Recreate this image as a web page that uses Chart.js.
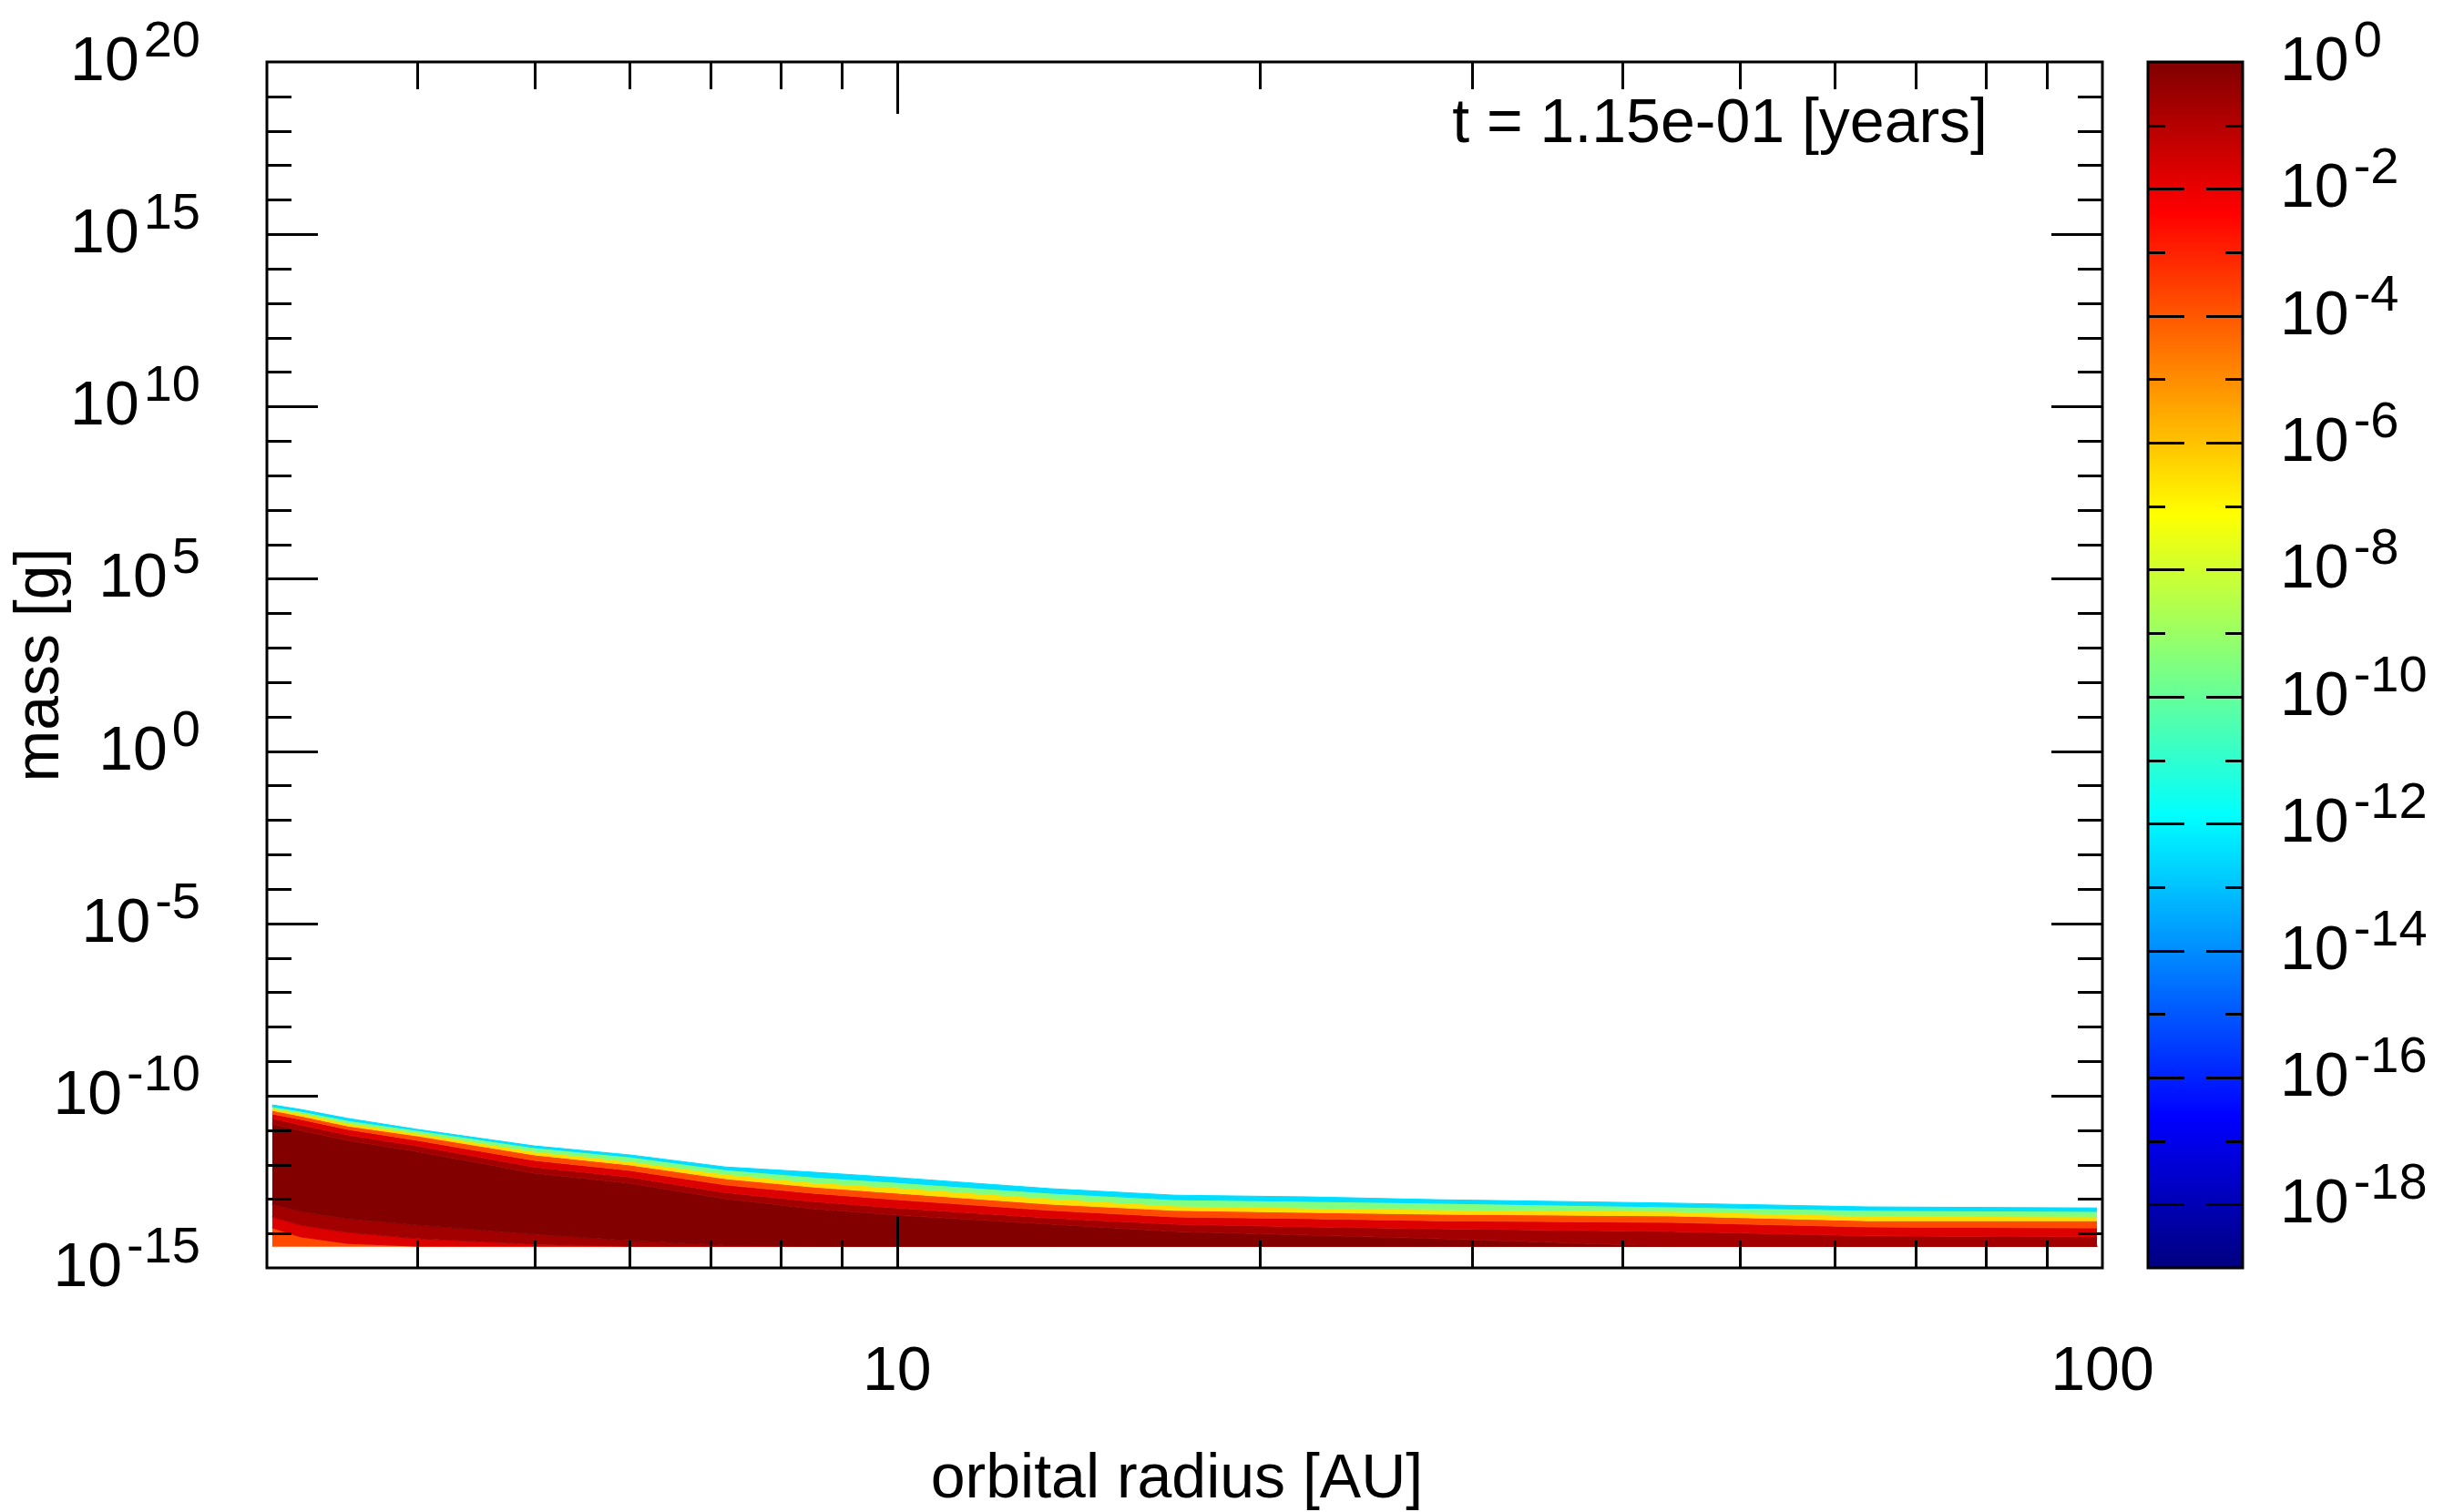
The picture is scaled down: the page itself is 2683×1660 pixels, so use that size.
<!DOCTYPE html>
<html>
<head>
<meta charset="utf-8">
<title>mass vs orbital radius</title>
<script src="https://cdn.jsdelivr.net/npm/chart.js@4.4.1/dist/chart.umd.min.js"></script>
<style>
  html, body { margin: 0; padding: 0; background: #fff; }
  #wrap { width: 2683px; height: 1660px; }
</style>
</head>
<body>
<div id="wrap"><canvas id="chart" width="2683" height="1660"></canvas></div>
<script>
const radiusAU = [3.03, 3.2, 3.5, 4, 5, 6, 7.2, 8.5, 10, 13.4, 17, 22, 28, 44, 64, 99];

// log10 of mass [g] where the density crosses a level (upper side of the band)
const upper14 = [-10.27, -10.40, -10.66, -10.98, -11.46, -11.72, -12.07, -12.22, -12.38, -12.70, -12.89, -12.94, -13.02, -13.12, -13.23, -13.26];
const upper11 = [-10.32, -10.45, -10.72, -11.01, -11.51, -11.78, -12.15, -12.36, -12.52, -12.83, -13.02, -13.07, -13.12, -13.23, -13.33, -13.36];
const upper8  = [-10.37, -10.51, -10.80, -11.09, -11.62, -11.91, -12.28, -12.52, -12.67, -12.99, -13.20, -13.26, -13.31, -13.36, -13.49, -13.52];
const upper5  = [-10.43, -10.59, -10.88, -11.17, -11.72, -12.01, -12.41, -12.65, -12.83, -13.15, -13.33, -13.39, -13.44, -13.49, -13.63, -13.63];
const upper25 = [-10.53, -10.69, -10.98, -11.30, -11.88, -12.17, -12.59, -12.83, -13.02, -13.33, -13.52, -13.57, -13.63, -13.68, -13.81, -13.84];
const upper1  = [-10.66, -10.85, -11.14, -11.46, -12.07, -12.36, -12.81, -13.07, -13.26, -13.55, -13.73, -13.81, -13.86, -13.94, -14.07, -14.10];
const upper03 = [-10.82, -11.01, -11.30, -11.62, -12.25, -12.54, -12.99, -13.28, -13.47, -13.73, -13.94, -14.05, -14.15, -14.37, -14.37, -14.37];
// lower side (only the inner part near 3-8 AU lifts off the floor)
const lower03 = [-13.15, -13.36, -13.57, -13.76, -14.02, -14.21, -14.34, -14.37, -14.37, -14.37, -14.37, -14.37, -14.37, -14.37, -14.37, -14.37];
const lower1  = [-13.52, -13.76, -13.97, -14.15, -14.31, -14.37, -14.37, -14.37, -14.37, -14.37, -14.37, -14.37, -14.37, -14.37, -14.37, -14.37];
const lower25 = [-13.84, -14.10, -14.29, -14.37, -14.37, -14.37, -14.37, -14.37, -14.37, -14.37, -14.37, -14.37, -14.37, -14.37, -14.37, -14.37];
const massFloor = -14.37;

// log10 density shown inside each band (top band first)
const bandDensity = [-12.5, -9.5, -6.5, -3.75, -1.75, -0.65, -0.05, -0.65, -1.75, -3.75];

// tick labels
const massExponents = [20, 15, 10, 5, 0, -5, -10, -15];
const radiusLabels = [10, 100];
const minorRadius = [4, 5, 6, 7, 8, 9, 20, 30, 40, 50, 60, 70, 80, 90];
const colorExponents = [0, -2, -4, -6, -8, -10, -12, -14, -16, -18];

const FONT = '"Liberation Sans", Arial, sans-serif';
const CB_MIN = -19, CB_MAX = 0;

function clamp(v) { return Math.max(0, Math.min(1, v)); }
function jet(logValue) {
    const t = (logValue - CB_MIN) / (CB_MAX - CB_MIN);
    const r = clamp(Math.min(4 * t - 1.5, -4 * t + 4.5));
    const g = clamp(Math.min(4 * t - 0.5, -4 * t + 3.5));
    const b = clamp(Math.min(4 * t + 0.5, -4 * t + 2.5));
    return `rgb(${Math.round(r * 255)},${Math.round(g * 255)},${Math.round(b * 255)})`;
}

const floorLine = radiusAU.map(() => massFloor);
const lines = [upper14, upper11, upper8, upper5, upper25, upper1, upper03, lower03, lower1, lower25, floorLine];

const datasets = lines.map((line, i) => {
    const color = i === 0 ? jet(bandDensity[0]) : jet(bandDensity[i - 1]);
    return {
        data: radiusAU.map((r, k) => ({ x: r, y: Math.pow(10, line[k]) })),
        borderColor: color,
        backgroundColor: color,
        borderWidth: 1,
        pointRadius: 0,
        tension: 0,
        fill: i === 0 ? false : '-1'
    };
});

function drawPower(ctx, exp, x, yTick, align) {
    const main = `68px ${FONT}`, sup = `56px ${FONT}`;
    ctx.font = main;
    const wb = ctx.measureText('10').width;
    ctx.font = sup;
    const ws = ctx.measureText(String(exp)).width;
    const gap = 5;
    const total = wb + gap + ws;
    let x0 = x;
    if (align === 'right') x0 = x - total;
    ctx.textAlign = 'left';
    ctx.textBaseline = 'alphabetic';
    ctx.font = main;
    ctx.fillText('10', x0, yTick + 20);
    ctx.font = sup;
    ctx.fillText(String(exp), x0 + wb + gap, yTick - 6);
}

const framePlugin = {
    id: 'frame',
    afterDraw(chart) {
        const ctx = chart.ctx;
        const area = chart.chartArea;
        const xs = chart.scales.x, ys = chart.scales.y, cb = chart.scales.cb;
        ctx.save();
        ctx.strokeStyle = '#000';
        ctx.fillStyle = '#000';
        ctx.lineWidth = 3;

        // y ticks, both sides, inward
        ctx.beginPath();
        for (let e = -14; e <= 19; e++) {
            const y = Math.round(ys.getPixelForValue(Math.pow(10, e))) + 0.5;
            const len = e % 5 === 0 ? 56 : 27;
            ctx.moveTo(area.left, y); ctx.lineTo(area.left + len, y);
            ctx.moveTo(area.right, y); ctx.lineTo(area.right - len, y);
        }
        // x ticks, top and bottom
        minorRadius.concat([10]).forEach(r => {
            const x = Math.round(xs.getPixelForValue(r)) + 0.5;
            const len = r === 10 ? 57 : 30;
            ctx.moveTo(x, area.bottom); ctx.lineTo(x, area.bottom - len);
            ctx.moveTo(x, area.top); ctx.lineTo(x, area.top + len);
        });
        ctx.stroke();
        ctx.strokeRect(area.left, area.top, area.right - area.left, area.bottom - area.top);

        // colour bar
        const cbLeft = 2358, cbRight = 2462;
        const cTop = cb.getPixelForValue(Math.pow(10, CB_MAX));
        const cBot = cb.getPixelForValue(Math.pow(10, CB_MIN));
        const grad = ctx.createLinearGradient(0, cTop, 0, cBot);
        [[0, 1], [0.125, 0.875], [0.375, 0.625], [0.625, 0.375], [0.875, 0.125], [1, 0]].forEach(([off, t]) => {
            grad.addColorStop(off, jet(CB_MIN + t * (CB_MAX - CB_MIN)));
        });
        ctx.fillStyle = grad;
        ctx.fillRect(cbLeft, cTop, cbRight - cbLeft, cBot - cTop);
        ctx.beginPath();
        for (let e = -18; e <= -1; e++) {
            const y = Math.round(cb.getPixelForValue(Math.pow(10, e))) + 0.5;
            const len = e % 2 === 0 ? 40 : 19;
            ctx.moveTo(cbLeft, y); ctx.lineTo(cbLeft + len, y);
            ctx.moveTo(cbRight, y); ctx.lineTo(cbRight - len, y);
        }
        ctx.stroke();
        ctx.strokeRect(cbLeft, cTop, cbRight - cbLeft, cBot - cTop);

        // labels
        ctx.fillStyle = '#000';
        massExponents.forEach(e => drawPower(ctx, e, 220, ys.getPixelForValue(Math.pow(10, e)), 'right'));
        colorExponents.forEach(e => drawPower(ctx, e, 2503, cb.getPixelForValue(Math.pow(10, e)), 'left'));

        ctx.font = `68px ${FONT}`;
        ctx.textAlign = 'center';
        ctx.textBaseline = 'alphabetic';
        radiusLabels.forEach(r => ctx.fillText(String(r), xs.getPixelForValue(r), 1526));

        ctx.fillText('orbital radius [AU]', 1292, 1644);
        ctx.textAlign = 'right';
        ctx.fillText('t = 1.15e-01 [years]', 2182, 156);

        ctx.save();
        ctx.translate(64, (area.top + area.bottom) / 2);
        ctx.rotate(-Math.PI / 2);
        ctx.textAlign = 'center';
        ctx.fillText('mass [g]', 0, 0);
        ctx.restore();

        ctx.restore();
    }
};

const hidden = { display: false };
new Chart(document.getElementById('chart'), {
    type: 'line',
    data: { datasets },
    options: {
        responsive: false,
        animation: false,
        events: [],
        layout: { padding: { top: 68, left: 0, right: 0, bottom: 0 }, autoPadding: false },
        plugins: { legend: hidden, tooltip: { enabled: false }, title: hidden },
        scales: {
            x: {
                type: 'logarithmic', min: 3, max: 100, position: 'bottom',
                grid: hidden, border: hidden, ticks: hidden,
                afterFit(s) { s.height = 268; }
            },
            y: {
                type: 'logarithmic', min: 1e-15, max: 1e20, position: 'left',
                grid: hidden, border: hidden, ticks: hidden,
                afterFit(s) { s.width = 293; }
            },
            cb: {
                type: 'logarithmic', min: 1e-19, max: 1, position: 'right', axis: 'y',
                grid: hidden, border: hidden, ticks: hidden,
                afterFit(s) { s.width = 375; }
            }
        }
    },
    plugins: [framePlugin]
});
</script>
</body>
</html>
